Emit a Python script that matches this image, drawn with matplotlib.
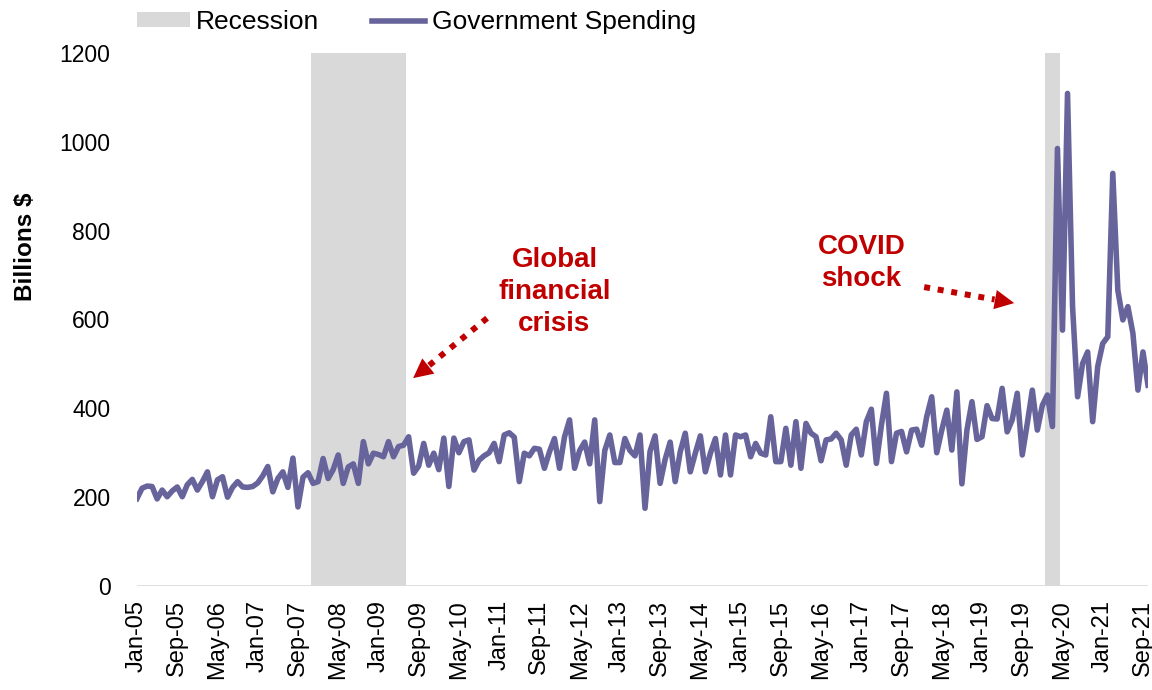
import matplotlib.pyplot as plt
import numpy as np
import pandas as pd
from matplotlib.patches import Patch
from matplotlib.lines import Line2D

plt.rcParams['font.family'] = ['Liberation Sans', 'DejaVu Sans']

# monthly government spending, billions $, Jan 2005 - Oct 2021
spending = [
    197, 220, 225, 224, 196, 216, 201, 214, 223, 201, 228, 240,   # 2005
    216, 235, 257, 201, 239, 246, 200, 222, 235, 223, 222, 224,   # 2006
    232, 248, 269, 212, 242, 257, 222, 288, 178, 245, 255, 231,   # 2007
    235, 287, 242, 262, 295, 231, 268, 275, 231, 325, 275, 299,   # 2008
    296, 291, 325, 291, 314, 317, 336, 254, 270, 321, 272, 299,   # 2009
    262, 333, 224, 333, 300, 325, 329, 261, 283, 293, 300, 321,   # 2010
    280, 340, 345, 335, 235, 299, 293, 310, 308, 265, 302, 332,   # 2011
    265, 336, 374, 265, 305, 324, 275, 374, 190, 305, 340, 278,   # 2012
    278, 332, 305, 293, 340, 175, 303, 338, 231, 285, 324, 235,   # 2013
    302, 344, 257, 299, 338, 257, 299, 332, 250, 340, 250, 340,   # 2014
    336, 340, 291, 321, 299, 295, 381, 280, 280, 355, 272, 370,   # 2015
    265, 366, 344, 336, 282, 329, 331, 344, 329, 272, 340, 353,   # 2016
    295, 370, 398, 276, 362, 434, 280, 344, 348, 302, 351, 353,   # 2017
    317, 381, 426, 300, 351, 396, 306, 437, 230, 351, 415, 330,   # 2018
    336, 406, 377, 376, 445, 347, 374, 434, 295, 366, 441, 351,   # 2019
    407, 430, 359, 985, 576, 1109, 629, 426, 501, 527, 370, 494,  # 2020
    546, 561, 929, 666, 599, 629, 569, 441, 527, 452,             # 2021
]
months = pd.date_range('2005-01-01', periods=len(spending), freq='MS')

# NBER recessions (first month, last month)
recessions = [('2007-12-01', '2009-06-01'), ('2020-02-01', '2020-04-01')]

tick_labels = ['Jan-05', 'Sep-05', 'May-06', 'Jan-07', 'Sep-07', 'May-08',
               'Jan-09', 'Sep-09', 'May-10', 'Jan-11', 'Sep-11', 'May-12',
               'Jan-13', 'Sep-13', 'May-14', 'Jan-15', 'Sep-15', 'May-16',
               'Jan-17', 'Sep-17', 'May-18', 'Jan-19', 'Sep-19', 'May-20',
               'Jan-21', 'Sep-21']

line_col = '#67649C'
band_col = '#D9D9D9'
red = '#C00000'

fig = plt.figure(figsize=(11.52, 6.9), dpi=100)
ax = fig.add_axes([137 / 1152, 1 - 586 / 690, 1011 / 1152, 533 / 690])

x = np.arange(len(spending))
for start, end in recessions:
    i0 = months.get_loc(pd.Timestamp(start))
    i1 = months.get_loc(pd.Timestamp(end))
    ax.axvspan(i0 - 0.5, i1 + 0.5, color=band_col, lw=0, zorder=1)

ax.axhline(0, color=band_col, lw=1.2, zorder=0)
ax.plot(x, spending, color=line_col, lw=4.0, solid_joinstyle='round', zorder=3)

ax.set_xlim(0, len(spending) - 1)
ax.set_ylim(0, 1200)
ax.set_yticks(np.arange(0, 1201, 200))
ax.set_xticks(np.arange(0, len(spending), 8))
ax.set_xticklabels(tick_labels, rotation=90)
ax.tick_params(axis='y', length=0, pad=19, labelsize=16.5)
ax.tick_params(axis='x', length=0, pad=10, labelsize=17)
for s in ax.spines.values():
    s.set_visible(False)

ax.set_ylabel('Billions $', fontsize=17.5, fontweight='bold')
ax.yaxis.set_label_coords(-0.099, 0.636)

# annotations
ax.text(83, 662, 'Global\nfinancial\ncrisis', ha='center', va='center',
        color=red, fontsize=20, fontweight='bold', linespacing=1.3)
ax.text(144, 727, 'COVID\nshock', ha='center', va='center',
        color=red, fontsize=20, fontweight='bold', linespacing=1.3)

dots = dict(arrowstyle='-', color=red, lw=4.3, linestyle=(0, (1, 1.3)),
            capstyle='butt', shrinkA=0, shrinkB=0)
head = dict(arrowstyle='-|>,head_length=0.7,head_width=0.35', color=red,
            lw=0, mutation_scale=20, shrinkA=0, shrinkB=0)
ax.annotate('', xy=(58.0, 496), xytext=(69.6, 603), arrowprops=dots)
ax.annotate('', xy=(54.9, 468), xytext=(58.0, 496), arrowprops=head)
ax.annotate('', xy=(170.5, 645), xytext=(156.5, 673), arrowprops=dots)
ax.annotate('', xy=(174.4, 637), xytext=(170.5, 645), arrowprops=head)

handles = [Patch(facecolor=band_col, edgecolor='none', label='Recession'),
           Line2D([], [], color=line_col, lw=4.0, label='Government Spending')]
ax.legend(handles=handles, loc='center left', bbox_to_anchor=(0.0, 1.058),
          ncol=2, frameon=False, fontsize=19, borderpad=0, borderaxespad=0,
          handlelength=2.0, handleheight=0.5, handletextpad=0.25,
          columnspacing=2.0)

fig.savefig('out.png', dpi=100)
